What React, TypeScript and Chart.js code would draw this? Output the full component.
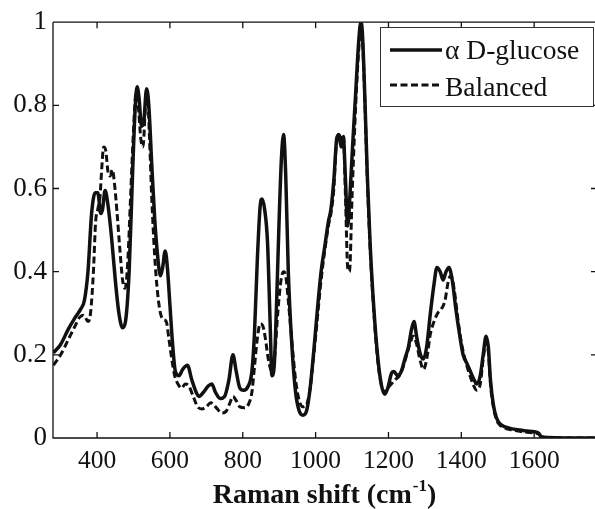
import React, { useEffect, useRef } from "react";
import { Chart, registerables } from "chart.js";

Chart.register(...registerables);

// Raman shift (cm^-1) and normalized intensity for α D-glucose (solid)
const glucoseShift = [
  280, 300, 320, 340, 355, 365, 375, 385, 395, 402, 410, 415, 422, 430, 440, 450, 460, 470, 478, 488,
  498, 505, 510, 515, 522, 528, 536, 542, 550, 558, 566, 574, 580, 587, 593, 600, 607, 615, 625, 635,
  648, 660, 672, 680, 692, 705, 715, 725, 738, 750, 762, 773, 782, 792, 802, 815, 825, 832, 840, 848,
  853, 860, 868, 875, 880, 886, 893, 900, 906, 912, 918, 925, 935, 945, 955, 965, 975, 985, 995, 1005,
  1015, 1025, 1035, 1042, 1050, 1058, 1064, 1070, 1076, 1082, 1088, 1094, 1102, 1110, 1118, 1124, 1128, 1134, 1142, 1150,
  1160, 1170, 1180, 1190, 1198, 1208, 1215, 1225, 1235, 1245, 1255, 1263, 1270, 1278, 1288, 1296, 1305, 1315, 1325, 1333,
  1342, 1350, 1358, 1366, 1375, 1385, 1395, 1405, 1415, 1425, 1435, 1443, 1452, 1460, 1468, 1474, 1480, 1488, 1496, 1505,
  1520, 1540, 1560, 1580, 1600, 1612, 1620, 1640, 1700, 1767,
];
const glucoseIntensity = [
  0.205, 0.225, 0.26, 0.29, 0.31, 0.33, 0.4, 0.54, 0.59, 0.59, 0.54, 0.55, 0.595, 0.56, 0.48, 0.38, 0.3, 0.265, 0.28, 0.4,
  0.65, 0.8, 0.845, 0.82, 0.75, 0.76, 0.84, 0.8, 0.66, 0.53, 0.44, 0.39, 0.41, 0.45, 0.41, 0.32, 0.23, 0.16, 0.15, 0.165,
  0.175, 0.14, 0.11, 0.1, 0.11, 0.125, 0.13, 0.11, 0.095, 0.1, 0.14, 0.2, 0.16, 0.12, 0.115, 0.125, 0.16, 0.25, 0.43, 0.56,
  0.575, 0.55, 0.47, 0.28, 0.15, 0.17, 0.33, 0.53, 0.67, 0.73, 0.63, 0.4, 0.22, 0.11, 0.065, 0.055, 0.065, 0.12, 0.21, 0.31,
  0.4, 0.46, 0.52, 0.55, 0.62, 0.72, 0.73, 0.7, 0.725, 0.62, 0.51, 0.58, 0.71, 0.83, 0.95, 1.0, 0.98, 0.85, 0.63, 0.46,
  0.31, 0.2, 0.13, 0.105, 0.12, 0.155, 0.16, 0.15, 0.16, 0.19, 0.22, 0.26, 0.28, 0.24, 0.2, 0.19, 0.22, 0.3, 0.37, 0.41,
  0.4, 0.38, 0.4, 0.41, 0.38, 0.31, 0.25, 0.2, 0.18, 0.16, 0.14, 0.13, 0.15, 0.2, 0.245, 0.22, 0.14, 0.08, 0.05, 0.035,
  0.027, 0.022, 0.019, 0.017, 0.015, 0.012, 0.003, 0.001, 0.0, 0.0,
];

// Balanced (dashed)
const balancedShift = [
  280, 300, 320, 340, 352, 362, 368, 375, 382, 390, 396, 402, 408, 413, 418, 424, 430, 436, 442, 448,
  455, 462, 470, 477, 484, 492, 500, 507, 513, 520, 526, 533, 538, 544, 550, 558, 566, 574, 582, 590,
  597, 605, 613, 622, 632, 642, 652, 664, 676, 688, 700, 712, 720, 730, 742, 755, 765, 773, 782, 792,
  805, 815, 825, 832, 840, 848, 855, 862, 870, 880, 888, 896, 905, 912, 918, 925, 935, 945, 955, 965,
  975, 985, 995, 1005, 1015, 1025, 1035, 1042, 1050, 1058, 1064, 1070, 1076, 1082, 1088, 1093, 1100, 1110, 1118, 1124,
  1128, 1134, 1142, 1150, 1160, 1170, 1180, 1190, 1198, 1208, 1218, 1230, 1240, 1250, 1260, 1268, 1276, 1286, 1296, 1305,
  1315, 1325, 1335, 1345, 1355, 1365, 1372, 1380, 1390, 1400, 1410, 1420, 1432, 1442, 1452, 1460, 1468, 1474, 1480, 1488,
  1496, 1505, 1520, 1540, 1560, 1580, 1600, 1612, 1620, 1640, 1767,
];
const balancedIntensity = [
  0.175, 0.2, 0.235, 0.27, 0.29, 0.295, 0.29, 0.28, 0.3, 0.4, 0.52, 0.55, 0.58, 0.65, 0.7, 0.69, 0.64, 0.63, 0.645, 0.61,
  0.54, 0.46, 0.38, 0.36, 0.42, 0.58, 0.74, 0.83, 0.8, 0.72, 0.7, 0.8, 0.83, 0.72, 0.58, 0.44, 0.35, 0.3, 0.285, 0.28,
  0.24, 0.19, 0.15, 0.13, 0.12, 0.13, 0.125, 0.1, 0.075, 0.07, 0.075, 0.085, 0.08, 0.07, 0.06, 0.065, 0.085, 0.1, 0.09, 0.075,
  0.073, 0.08, 0.11, 0.17, 0.24, 0.275, 0.27, 0.24, 0.19, 0.16, 0.2, 0.3, 0.38, 0.4, 0.39, 0.33, 0.23, 0.14, 0.09, 0.075,
  0.08, 0.12, 0.2, 0.29, 0.38, 0.45, 0.51, 0.54, 0.6, 0.72, 0.73, 0.72, 0.73, 0.58, 0.41, 0.4, 0.58, 0.8, 0.93, 0.99,
  0.97, 0.84, 0.62, 0.45, 0.3, 0.19, 0.13, 0.11, 0.12, 0.13, 0.14, 0.15, 0.17, 0.2, 0.23, 0.245, 0.23, 0.19, 0.165, 0.19,
  0.25, 0.28, 0.3, 0.31, 0.33, 0.38, 0.39, 0.36, 0.29, 0.23, 0.19, 0.16, 0.13, 0.115, 0.13, 0.19, 0.23, 0.21, 0.13, 0.075,
  0.045, 0.032, 0.024, 0.019, 0.016, 0.014, 0.012, 0.01, 0.002, 0.0, 0.0,
];

const xTickValues = [400, 600, 800, 1000, 1200, 1400, 1600];
const yTickValues = [0, 0.2, 0.4, 0.6, 0.8, 1];
const seriesNames = ["α D-glucose", "Balanced"];
const xTitleMain = "Raman shift (cm";
const xTitleSup = "-1";
const xTitleEnd = ")";

const SERIF = '"Liberation Serif", "Times New Roman", serif';
const INK = "#111";

const framePlugin = {
  id: "frame",
  afterDraw(chart: any) {
    const { ctx, chartArea } = chart;
    const xs = chart.scales.x;
    const ys = chart.scales.y;
    const L = chartArea.left;
    const T = chartArea.top;
    const B = chartArea.bottom;
    const R = chartArea.right + 2;
    ctx.save();
    ctx.strokeStyle = INK;
    ctx.lineWidth = 1.3;
    ctx.beginPath();
    ctx.moveTo(L, T);
    ctx.lineTo(R, T);
    ctx.moveTo(L, T);
    ctx.lineTo(L, B);
    ctx.lineTo(R, B);
    ctx.moveTo(R, T);
    ctx.lineTo(R, B);
    const tl = 6;
    xTickValues.forEach((v) => {
      const px = xs.getPixelForValue(v);
      ctx.moveTo(px, B);
      ctx.lineTo(px, B - tl);
      ctx.moveTo(px, T);
      ctx.lineTo(px, T + tl);
    });
    yTickValues.forEach((v) => {
      const py = ys.getPixelForValue(v);
      ctx.moveTo(L, py);
      ctx.lineTo(L + tl, py);
      ctx.moveTo(R, py);
      ctx.lineTo(R - tl, py);
    });
    ctx.stroke();

    // Legend
    const bx = 380.5, by = 27.5, bw = 213, bh = 79;
    ctx.fillStyle = "#fff";
    ctx.fillRect(bx, by, bw, bh);
    ctx.lineWidth = 1;
    ctx.strokeStyle = "#333";
    ctx.strokeRect(bx, by, bw, bh);
    ctx.strokeStyle = INK;
    ctx.lineWidth = 3.5;
    ctx.beginPath();
    ctx.moveTo(390, 50);
    ctx.lineTo(442, 50);
    ctx.stroke();
    ctx.lineWidth = 3;
    ctx.setLineDash([7, 3.5]);
    ctx.beginPath();
    ctx.moveTo(390, 85);
    ctx.lineTo(439, 85);
    ctx.stroke();
    ctx.setLineDash([]);
    ctx.fillStyle = INK;
    ctx.font = `27.5px ${SERIF}`;
    ctx.textAlign = "left";
    ctx.textBaseline = "alphabetic";
    ctx.fillText(seriesNames[0], 445, 59);
    ctx.fillText(seriesNames[1], 445, 96);

    // X-axis title with superscript
    const big = `bold 28px ${SERIF}`;
    const small = `bold 17px ${SERIF}`;
    ctx.font = big;
    const w1 = ctx.measureText(xTitleMain).width;
    const w3 = ctx.measureText(xTitleEnd).width;
    ctx.font = small;
    const w2 = ctx.measureText(xTitleSup).width;
    const total = w1 + w2 + w3;
    const cx = (chartArea.left + 595) / 2;
    const x0 = cx - total / 2;
    const base = 503;
    ctx.font = big;
    ctx.fillText(xTitleMain, x0, base);
    ctx.font = small;
    ctx.fillText(xTitleSup, x0 + w1 + 1, base - 12);
    ctx.font = big;
    ctx.fillText(xTitleEnd, x0 + w1 + w2 + 1, base);
    ctx.restore();
  },
};

export default function App() {
  const ref = useRef<HTMLCanvasElement | null>(null);
  useEffect(() => {
    if (!ref.current) return;
    const chart = new Chart(ref.current, {
      type: "line",
      data: {
        datasets: [
          {
            label: seriesNames[0],
            data: glucoseShift.map((x, i) => ({ x, y: glucoseIntensity[i] })),
            borderColor: INK,
            borderWidth: 3.5,
            pointRadius: 0,
            cubicInterpolationMode: "monotone",
            fill: false,
          },
          {
            label: seriesNames[1],
            data: balancedShift.map((x, i) => ({ x, y: balancedIntensity[i] })),
            borderColor: INK,
            borderWidth: 3,
            borderDash: [7, 3.5],
            pointRadius: 0,
            cubicInterpolationMode: "monotone",
            fill: false,
          },
        ],
      },
      options: {
        animation: false,
        responsive: false,
        maintainAspectRatio: false,
        layout: { padding: { top: 18, right: 0, left: 0, bottom: 0 } },
        plugins: { legend: { display: false }, tooltip: { enabled: false } },
        scales: {
          x: {
            type: "linear",
            min: 279,
            max: 1767,
            grid: { display: false, drawTicks: false },
            border: { display: false },
            afterBuildTicks: (s: any) => {
              s.ticks = xTickValues.map((v) => ({ value: v }));
            },
            afterFit: (s: any) => {
              s.height = 71;
            },
            ticks: {
              padding: 8,
              color: INK,
              font: { family: SERIF, size: 25.5 },
              maxRotation: 0,
              autoSkip: false,
              callback: (v: any) => String(v),
            },
          },
          y: {
            min: 0,
            max: 1,
            grid: { display: false, drawTicks: false },
            border: { display: false },
            afterBuildTicks: (s: any) => {
              s.ticks = yTickValues.map((v) => ({ value: v }));
            },
            afterFit: (s: any) => {
              s.width = 53;
            },
            ticks: {
              padding: 6,
              color: INK,
              font: { family: SERIF, size: 27 },
              callback: (v: any) => String(Math.round(v * 10) / 10),
            },
          },
        },
      },
      plugins: [framePlugin],
    });
    return () => chart.destroy();
  }, []);
  return (
    <div style={{ position: "absolute", left: 0, top: 0, width: 595, height: 509, background: "#fff" }}>
      <canvas ref={ref} width={595} height={509} style={{ display: "block", width: 595, height: 509 }} />
    </div>
  );
}
